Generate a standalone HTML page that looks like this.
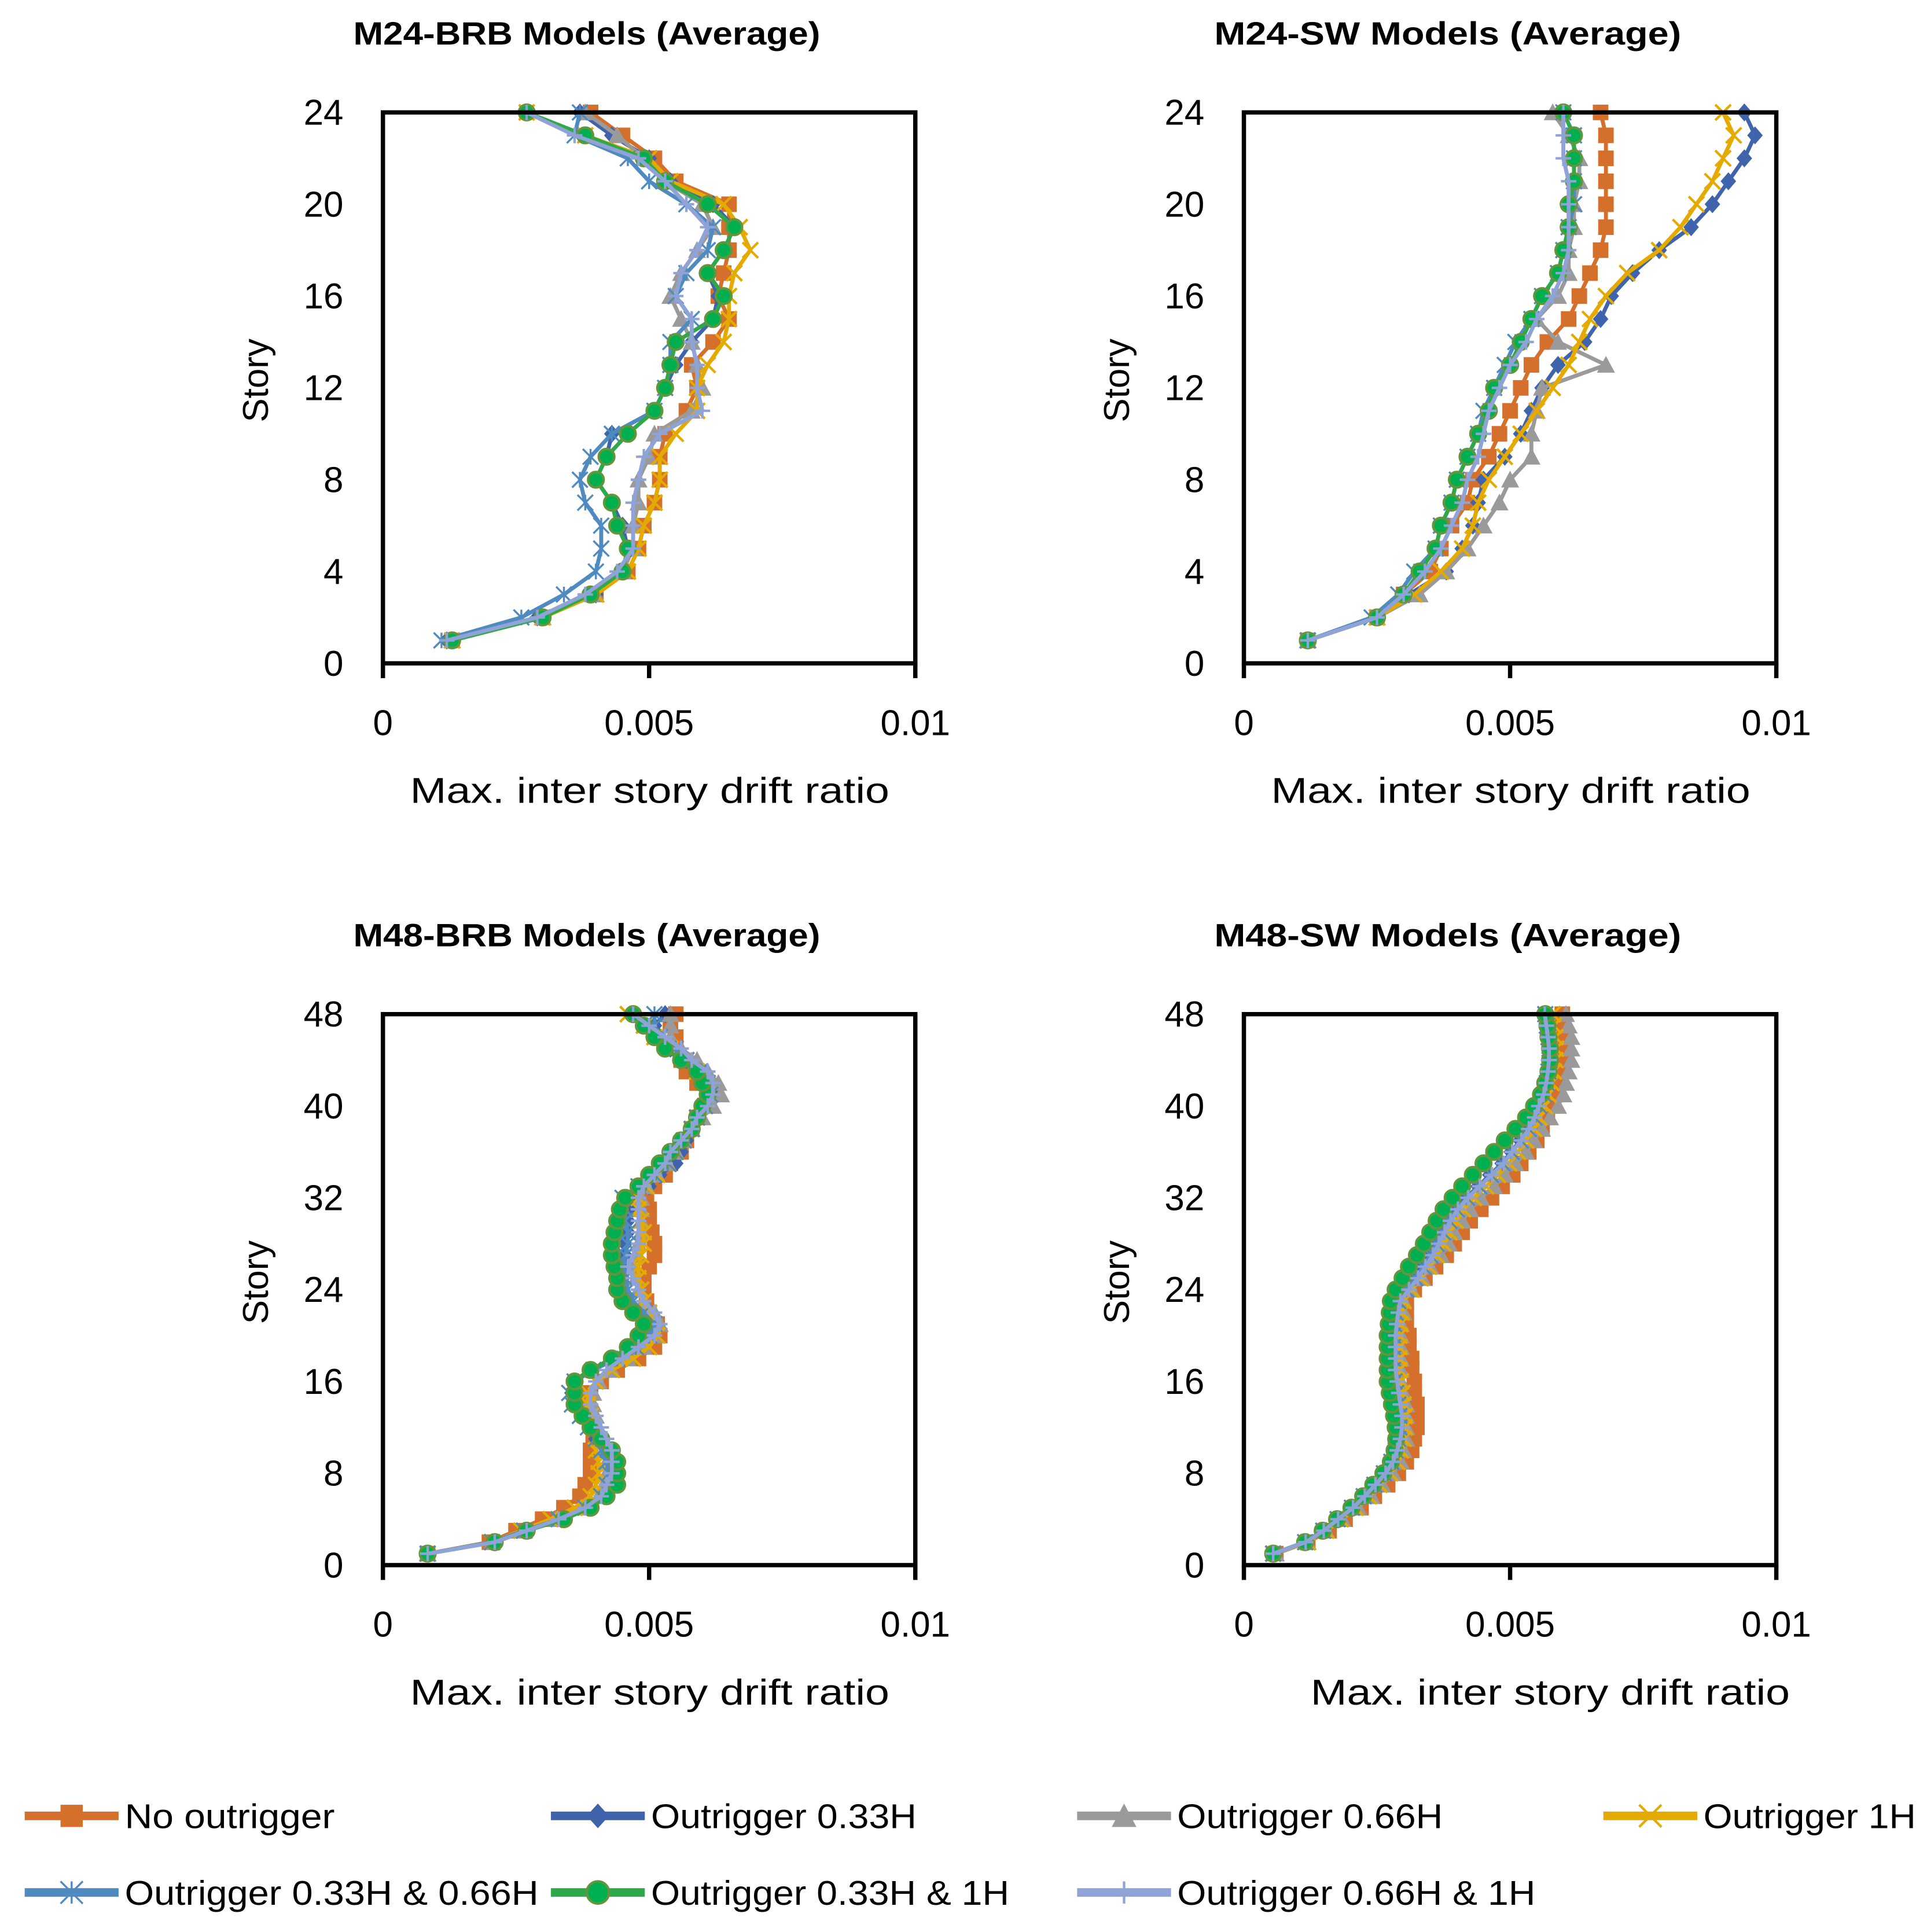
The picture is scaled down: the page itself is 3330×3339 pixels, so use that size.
<!DOCTYPE html>
<html><head><meta charset="utf-8">
<style>
html,body{margin:0;padding:0;background:#fff;}
svg{display:block;font-family:"Liberation Sans",Arial,sans-serif;}
</style></head>
<body>
<svg id="chart" xmlns="http://www.w3.org/2000/svg" width="3330" height="3339" viewBox="0 0 1560 1564" preserveAspectRatio="none"></svg>
<script>
// Values in thousandths of drift ratio (x10^-3)
const seriesNames = ["No outrigger","Outrigger 0.33H","Outrigger 0.66H","Outrigger 1H","Outrigger 0.33H & 0.66H","Outrigger 0.33H & 1H","Outrigger 0.66H & 1H"];
const xTickLabels = ["0","0.005","0.01"];
const xTickValues = [0,5,10];
const yTicks24 = [0,4,8,12,16,20,24];
const yTicks48 = [0,8,16,24,32,40,48];
const titles = ["M24-BRB Models (Average)","M24-SW Models (Average)","M48-BRB Models (Average)","M48-SW Models (Average)"];

// M24-BRB
const p1_none = [1.3,3.0,4.0,4.6,4.8,4.9,5.1,5.2,5.2,5.3,5.7,5.9,5.8,6.2,6.5,6.3,6.4,6.5,6.5,6.5,5.5,5.1,4.5,3.9];
const p1_033 = [1.2,2.9,4.0,4.5,4.6,4.5,4.3,4.0,4.2,4.3,5.1,5.3,5.5,5.8,6.2,6.3,6.1,6.4,6.6,6.2,5.4,5.0,4.3,3.7];
const p1_066 = [1.3,3.0,4.0,4.5,4.7,4.7,4.8,4.8,5.0,5.1,5.8,6.0,5.9,5.8,5.6,5.4,5.6,5.9,6.2,6.0,5.3,4.9,4.4,3.8];
const p1_1 = [1.3,3.0,4.0,4.6,4.8,4.9,5.1,5.2,5.2,5.5,5.9,5.9,6.1,6.4,6.5,6.5,6.6,6.9,6.7,6.4,5.4,5.0,3.8,2.7];
const p1_033066 = [1.1,2.6,3.4,4.0,4.1,4.1,3.8,3.7,3.9,4.3,5.1,5.3,5.4,5.4,5.8,5.5,5.7,6.1,6.2,5.7,5.0,4.6,3.6,3.7];
const p1_0331 = [1.3,3.0,3.9,4.5,4.6,4.4,4.3,4.0,4.2,4.6,5.1,5.3,5.4,5.5,6.2,6.4,6.1,6.4,6.6,6.1,5.3,4.9,3.8,2.7];
const p1_0661 = [1.2,2.9,3.8,4.4,4.7,4.7,4.7,4.8,4.9,5.2,6.0,5.9,5.9,5.8,5.8,5.5,5.6,5.9,6.1,5.7,5.3,4.8,3.6,2.7];
// M24-SW
const p2_none = [1.2,2.5,3.0,3.5,3.7,3.9,4.2,4.3,4.6,4.8,5.0,5.2,5.4,5.7,6.1,6.3,6.5,6.7,6.8,6.8,6.8,6.8,6.8,6.7];
const p2_033 = [1.2,2.5,3.1,3.8,4.1,4.3,4.4,4.5,4.9,5.2,5.4,5.6,5.9,6.4,6.7,6.9,7.3,7.8,8.4,8.8,9.1,9.4,9.6,9.4];
const p2_066 = [1.2,2.5,3.3,3.8,4.2,4.5,4.8,5.0,5.4,5.4,5.5,5.6,6.8,5.9,5.5,5.9,6.1,6.1,6.2,6.2,6.3,6.3,6.1,5.8];
const p2_1 = [1.2,2.5,3.2,3.7,4.1,4.3,4.4,4.6,4.9,5.2,5.5,5.8,6.1,6.3,6.5,6.8,7.2,7.8,8.2,8.5,8.8,9.0,9.2,9.0];
const p2_033066 = [1.2,2.4,2.9,3.2,3.6,3.7,3.9,4.0,4.2,4.4,4.5,4.7,4.9,5.1,5.4,5.6,5.9,6.0,6.1,6.2,6.2,6.2,6.2,6.0];
const p2_0331 = [1.2,2.5,3.0,3.3,3.6,3.7,3.9,4.0,4.2,4.4,4.6,4.7,5.0,5.2,5.4,5.6,5.9,6.0,6.1,6.1,6.2,6.2,6.2,6.0];
const p2_0661 = [1.2,2.5,3.0,3.4,3.7,3.9,4.1,4.2,4.4,4.5,4.6,4.8,5.0,5.3,5.5,5.8,6.0,6.1,6.1,6.1,6.1,6.0,6.0,6.0];
// M48-BRB
const p3_none = [0.84,2.0,2.5,3.0,3.4,3.7,3.8,3.9,3.9,3.9,3.95,3.95,3.9,3.85,3.9,4.1,4.4,4.8,5.1,5.2,5.15,5.0,4.95,4.9,4.9,5.0,5.1,5.1,5.05,5.0,5.0,4.95,5.1,5.3,5.4,5.6,5.7,5.8,5.9,6.1,6.2,5.9,5.7,5.6,5.5,5.5,5.4,5.5];
const p3_033 = [0.84,2.1,2.7,3.35,3.85,4.15,4.3,4.3,4.3,4.2,4.0,3.9,3.75,3.6,3.55,3.6,3.9,4.3,4.7,4.95,5.0,4.8,4.6,4.5,4.5,4.5,4.55,4.55,4.6,4.6,4.65,4.8,5.0,5.2,5.5,5.6,5.7,5.8,5.9,6.1,6.2,6.1,6.0,5.7,5.4,5.2,5.1,5.3];
const p3_066 = [0.84,2.05,2.65,3.25,3.75,4.05,4.15,4.2,4.2,4.15,4.1,4.05,4.0,3.95,3.95,4.05,4.3,4.6,4.9,5.1,5.2,5.1,4.9,4.8,4.75,4.7,4.75,4.8,4.85,4.85,4.85,4.85,4.95,5.15,5.35,5.5,5.65,5.8,6.0,6.2,6.35,6.3,6.1,5.9,5.6,5.4,5.4,5.4];
const p3_1 = [0.84,2.05,2.6,3.15,3.6,3.9,4.0,4.05,4.05,4.0,4.0,3.95,3.9,3.85,3.85,4.0,4.3,4.7,5.0,5.15,5.1,5.0,4.9,4.85,4.8,4.8,4.85,4.9,4.9,4.85,4.8,4.8,4.95,5.15,5.35,5.5,5.65,5.8,5.9,6.05,6.15,6.1,5.9,5.7,5.4,5.1,4.9,4.6];
const p3_033066 = [0.84,2.05,2.65,3.3,3.8,4.1,4.2,4.25,4.2,4.1,4.0,3.85,3.7,3.55,3.5,3.6,3.95,4.4,4.75,5.0,5.1,4.9,4.7,4.6,4.55,4.5,4.55,4.6,4.6,4.55,4.55,4.5,4.8,5.1,5.35,5.5,5.65,5.8,5.9,6.05,6.15,6.1,5.95,5.7,5.5,5.2,5.1,5.1];
const p3_0331 = [0.84,2.1,2.7,3.4,3.9,4.2,4.4,4.4,4.4,4.3,4.1,3.9,3.75,3.6,3.6,3.6,3.9,4.3,4.6,4.8,4.9,4.7,4.5,4.4,4.4,4.35,4.3,4.3,4.35,4.4,4.45,4.55,4.8,5.0,5.2,5.4,5.6,5.8,5.9,6.0,6.1,6.0,5.9,5.6,5.3,5.1,4.9,4.7];
const p3_0661 = [0.84,2.1,2.7,3.3,3.8,4.1,4.2,4.3,4.3,4.3,4.2,4.1,4.0,3.9,3.9,4.0,4.2,4.5,4.8,5.1,5.2,5.1,4.9,4.8,4.7,4.6,4.7,4.8,4.8,4.8,4.8,4.8,4.9,5.1,5.3,5.4,5.6,5.8,5.9,6.1,6.2,6.2,6.1,5.8,5.6,5.3,5.0,4.7];
// M48-SW
const p4_none = [0.6,1.2,1.6,1.9,2.2,2.45,2.7,2.9,3.05,3.15,3.2,3.25,3.25,3.25,3.2,3.2,3.15,3.15,3.1,3.1,3.05,3.05,3.05,3.2,3.4,3.6,3.8,3.95,4.1,4.25,4.45,4.65,4.85,5.05,5.2,5.35,5.5,5.6,5.7,5.8,5.85,5.9,5.95,5.98,6.0,6.0,6.0,5.98];
const p4_033 = [0.55,1.15,1.48,1.75,2.02,2.24,2.43,2.6,2.74,2.82,2.86,2.88,2.88,2.86,2.82,2.78,2.76,2.75,2.75,2.75,2.76,2.78,2.82,3.0,3.18,3.33,3.47,3.59,3.71,3.84,3.98,4.17,4.4,4.62,4.85,5.02,5.19,5.34,5.45,5.54,5.62,5.67,5.7,5.72,5.72,5.7,5.68,5.65];
const p4_066 = [0.6,1.2,1.55,1.85,2.15,2.4,2.6,2.8,2.95,3.0,3.05,3.05,3.05,3.05,3.0,2.95,2.95,2.95,2.95,2.95,2.95,3.0,3.0,3.15,3.35,3.5,3.7,3.85,3.95,4.1,4.25,4.45,4.7,4.9,5.1,5.3,5.45,5.6,5.75,5.9,6.0,6.05,6.1,6.15,6.15,6.15,6.1,6.05];
const p4_1 = [0.55,1.2,1.55,1.82,2.1,2.35,2.55,2.75,2.88,2.95,3.0,3.02,3.02,3.0,2.98,2.95,2.92,2.92,2.92,2.92,2.94,2.96,3.0,3.15,3.32,3.48,3.62,3.75,3.86,3.98,4.12,4.32,4.55,4.77,4.98,5.15,5.3,5.45,5.55,5.65,5.72,5.78,5.82,5.85,5.86,5.85,5.82,5.8];
const p4_033066 = [0.55,1.15,1.49,1.76,2.03,2.25,2.45,2.63,2.77,2.85,2.9,2.92,2.92,2.9,2.86,2.83,2.8,2.8,2.8,2.8,2.82,2.85,2.9,3.05,3.22,3.37,3.5,3.62,3.74,3.86,4.0,4.19,4.42,4.64,4.86,5.03,5.2,5.35,5.46,5.55,5.64,5.69,5.72,5.74,5.74,5.72,5.69,5.66];
const p4_0331 = [0.55,1.15,1.48,1.75,2.02,2.24,2.43,2.62,2.76,2.83,2.86,2.85,2.82,2.78,2.74,2.7,2.7,2.7,2.7,2.7,2.72,2.74,2.76,2.85,2.98,3.1,3.25,3.38,3.5,3.62,3.75,3.92,4.1,4.3,4.5,4.7,4.9,5.1,5.3,5.45,5.58,5.66,5.72,5.75,5.75,5.72,5.7,5.66];
const p4_0661 = [0.55,1.16,1.5,1.77,2.05,2.27,2.47,2.66,2.8,2.88,2.94,2.97,2.97,2.94,2.91,2.88,2.85,2.85,2.85,2.85,2.87,2.9,2.94,3.1,3.27,3.41,3.55,3.66,3.77,3.88,4.02,4.21,4.43,4.66,4.88,5.04,5.21,5.35,5.46,5.54,5.63,5.68,5.71,5.73,5.73,5.71,5.68,5.65];

const svg = document.getElementById('chart');
const NS = 'http://www.w3.org/2000/svg';
function mk(tag, attrs, parent){ const e=document.createElementNS(NS,tag); for(const k in attrs) e.setAttribute(k,attrs[k]); (parent||svg).appendChild(e); return e; }

const styles = [
  {line:'#D4702C', marker:'square', fill:'#D4702C', stroke:'#D4702C'},
  {line:'#3F64AC', marker:'diamond', fill:'#3F64AC', stroke:'#3F64AC'},
  {line:'#9A9A9A', marker:'triangle', fill:'#9A9A9A', stroke:'#9A9A9A'},
  {line:'#E5AA00', marker:'x', fill:'none', stroke:'#E5AA00'},
  {line:'#4F8BC0', marker:'star', fill:'none', stroke:'#4F8BC0'},
  {line:'#2FA84A', marker:'circle', fill:'#00B050', stroke:'#62963C'},
  {line:'#8FA3D6', marker:'plus', fill:'none', stroke:'#8FA3D6'}
];

function drawMarker(g, type, cx, cy, st, s){
  let m;
  if(type==='square') m=mk('rect',{x:cx-s,y:cy-s,width:2*s,height:2*s,fill:st.fill},g);
  else if(type==='diamond') m=mk('polygon',{points:`${cx},${cy-s-1} ${cx+s},${cy} ${cx},${cy+s+1} ${cx-s},${cy}`,fill:st.fill},g);
  else if(type==='triangle') m=mk('polygon',{points:`${cx},${cy-s-1} ${cx+s+1},${cy+s} ${cx-s-1},${cy+s}`,fill:st.fill},g);
  else if(type==='circle') m=mk('circle',{cx:cx,cy:cy,r:s,fill:st.fill,stroke:st.stroke,'stroke-width':2},g);
  else if(type==='x') m=mk('path',{d:`M${cx-s},${cy-s}L${cx+s},${cy+s}M${cx-s},${cy+s}L${cx+s},${cy-s}`,stroke:st.stroke,'stroke-width':2,fill:'none'},g);
  else if(type==='plus') m=mk('path',{d:`M${cx-s},${cy}L${cx+s},${cy}M${cx},${cy-s}L${cx},${cy+s}`,stroke:st.stroke,'stroke-width':2,fill:'none'},g);
  else m=mk('path',{d:`M${cx-s},${cy-s}L${cx+s},${cy+s}M${cx-s},${cy+s}L${cx+s},${cy-s}M${cx},${cy-s}L${cx},${cy+s}`,stroke:st.stroke,'stroke-width':1.6,fill:'none'},g);
  
  
}

const panels = [
  {x0:310,x1:741,y0:91,y1:537,maxY:24,ticks:yTicks24,data:[p1_none,p1_033,p1_066,p1_1,p1_033066,p1_0331,p1_0661],title:titles[0],tx:475,xt:526},
  {x0:1007,x1:1438,y0:91,y1:537,maxY:24,ticks:yTicks24,data:[p2_none,p2_033,p2_066,p2_1,p2_033066,p2_0331,p2_0661],title:titles[1],tx:1172,xt:1223},
  {x0:310,x1:741,y0:821,y1:1267,maxY:48,ticks:yTicks48,data:[p3_none,p3_033,p3_066,p3_1,p3_033066,p3_0331,p3_0661],title:titles[2],tx:475,xt:526},
  {x0:1007,x1:1438,y0:821,y1:1267,maxY:48,ticks:yTicks48,data:[p4_none,p4_033,p4_066,p4_1,p4_033066,p4_0331,p4_0661],title:titles[3],tx:1172,xt:1255}
];
const slug = ['m24-brb','m24-sw','m48-brb','m48-sw'];
const seriesSlug = ['no-outrigger','outrigger-033h','outrigger-066h','outrigger-1h','outrigger-033h-066h','outrigger-033h-1h','outrigger-066h-1h'];

panels.forEach((p,pi)=>{
  const g = mk('g',{});
  
  
  const xs = v => p.x0 + (v/10)*(p.x1-p.x0);
  const ys = v => p.y1 - (v/p.maxY)*(p.y1-p.y0);
  const t = mk('text',{x:p.tx,y:p.y0-55,'font-size':26,'font-weight':'bold','text-anchor':'middle',textLength:378,lengthAdjust:'spacingAndGlyphs'},g);
  t.textContent = p.title;
  
  
  p.ticks.forEach(v=>{
    const tt = mk('text',{x:p.x0-32,y:ys(v)+10,'font-size':29,'text-anchor':'end'},g);
    tt.textContent = v;
    
    
  });
  xTickValues.forEach((v,i)=>{
    const tk = mk('line',{x1:xs(v),x2:xs(v),y1:p.y1,y2:p.y1+12,stroke:'#000','stroke-width':3.5},g);
    
    
    const tl = mk('text',{x:xs(v),y:p.y1+58,'font-size':29,'text-anchor':'middle'},g);
    tl.textContent = xTickLabels[i];
    
    
  });
  const yt = mk('text',{x:0,y:0,'font-size':29,'text-anchor':'middle',transform:`translate(217,${(p.y0+p.y1)/2-6}) rotate(-90)`},g);
  if(pi%2===1) yt.setAttribute('transform',`translate(914,${(p.y0+p.y1)/2-6}) rotate(-90)`);
  yt.textContent='Story';
  
  
  const xt = mk('text',{x:p.xt,y:p.y1+113,'font-size':29,'text-anchor':'middle',textLength:388,lengthAdjust:'spacingAndGlyphs'},g);
  xt.textContent='Max. inter story drift ratio';
  
  
  p.data.forEach((arr,si)=>{
    const st = styles[si];
    const sg = mk('g',{},g);
    
    
    const pts = arr.map((v,i)=>`${xs(v).toFixed(2)},${ys(i+1).toFixed(2)}`).join(' ');
    const pl = mk('polyline',{points:pts,fill:'none',stroke:st.line,'stroke-width':3.2,'stroke-linejoin':'round'},sg);
    
    
    arr.forEach((v,i)=>drawMarker(sg, st.marker, xs(v), ys(i+1), st, 6.3));
  });
  const box = mk('rect',{x:p.x0,y:p.y0,width:p.x1-p.x0,height:p.y1-p.y0,fill:'none',stroke:'#000','stroke-width':3.5},g);
  
  
});

const legendPos = [[20,1470],[446,1470],[872,1470],[1298,1470],[20,1532],[446,1532],[872,1532]];
const legendLen = [170,215,215,172,335,290,290];
const lg = mk('g',{});


seriesNames.forEach((name,i)=>{
  const [x,y] = legendPos[i];
  const st = styles[i];
  const eg = mk('g',{},lg);
  
  
  mk('line',{x1:x,x2:x+76,y1:y,y2:y,stroke:st.line,'stroke-width':7},eg);
  drawMarker(eg, st.marker, x+38, y, st, 9);
  const tx = mk('text',{x:x+81,y:y+10,'font-size':28,textLength:legendLen[i],lengthAdjust:'spacingAndGlyphs'},eg);
  tx.textContent = name;
  
  
});
</script>
</body></html>
